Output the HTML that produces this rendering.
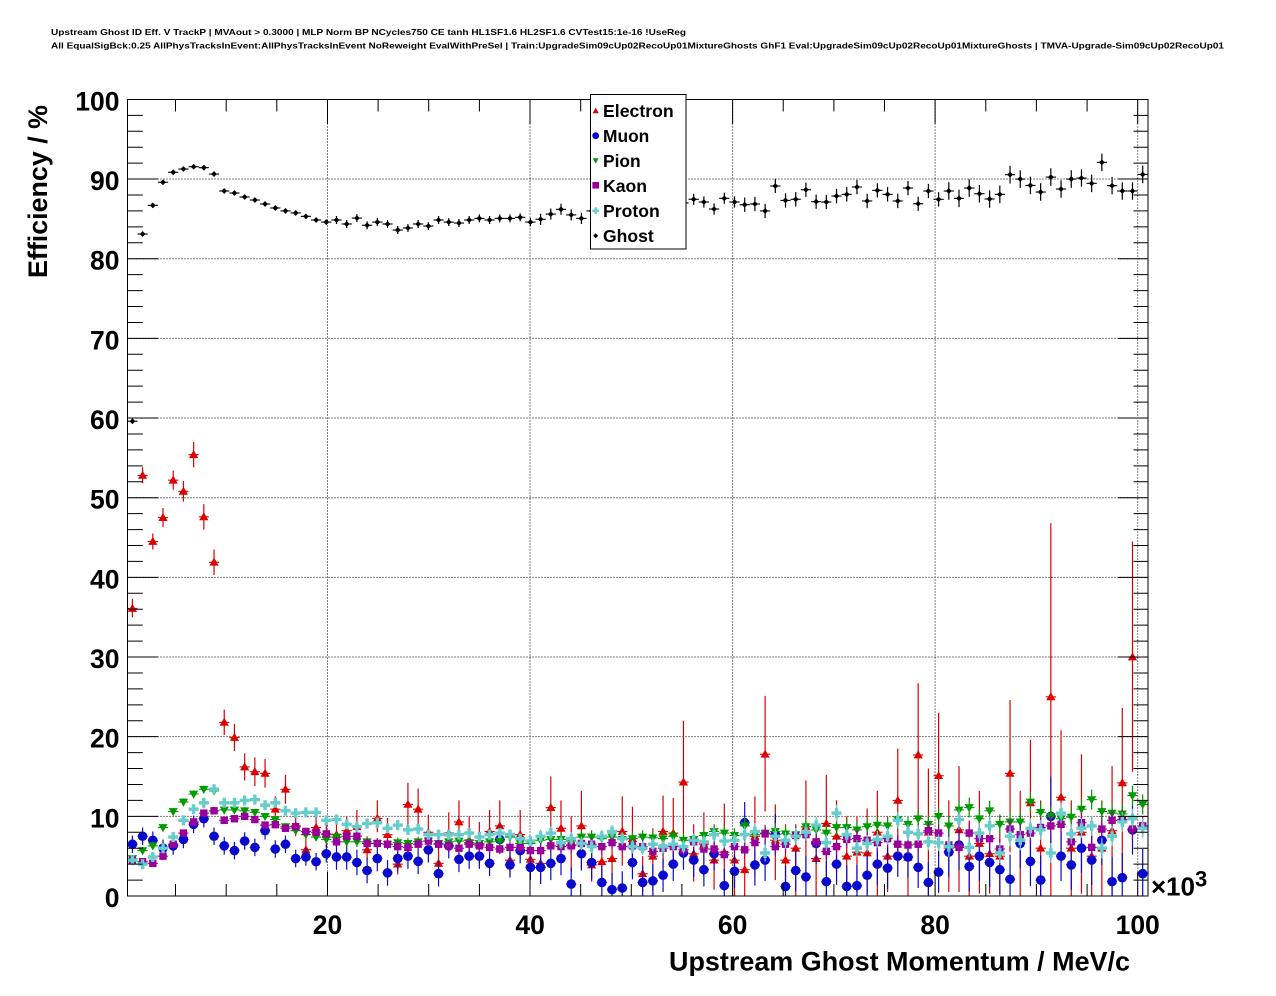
<!DOCTYPE html>
<html><head><meta charset="utf-8">
<style>
html,body{margin:0;padding:0;background:#fff;}
svg{display:block;}
text{font-family:"Liberation Sans",Arial,Helvetica,sans-serif;font-weight:bold;fill:#000;}
</style></head>
<body>
<svg width="1276" height="996" viewBox="0 0 1276 996" xmlns="http://www.w3.org/2000/svg">
<defs>
<clipPath id="cp"><rect x="127.5" y="99.5" width="1020.5" height="796.5"/></clipPath>
<marker id="mE" markerUnits="userSpaceOnUse" markerWidth="1.17589" markerHeight="1.5064" viewBox="-6 -6 12 12" preserveAspectRatio="none" refX="0" refY="0">
<path d="M-5.1 0H5.1" stroke="#dc0000" stroke-width="1.1"/><polygon points="0,-4.7 -4.6,3.4 4.6,3.4" fill="#dc0000"/></marker>
<marker id="mM" markerUnits="userSpaceOnUse" markerWidth="1.17589" markerHeight="1.5064" viewBox="-6 -6 12 12" preserveAspectRatio="none" refX="0" refY="0">
<path d="M-5.1 0H5.1" stroke="#0a0acc" stroke-width="1.1"/><circle cx="0" cy="0" r="4.8" fill="#0a0acc"/></marker>
<marker id="mP" markerUnits="userSpaceOnUse" markerWidth="1.17589" markerHeight="1.5064" viewBox="-6 -6 12 12" preserveAspectRatio="none" refX="0" refY="0">
<path d="M-5.1 0H5.1" stroke="#009a00" stroke-width="1.1"/><polygon points="-4.6,-3.4 4.6,-3.4 0,4.7" fill="#009a00"/></marker>
<marker id="mK" markerUnits="userSpaceOnUse" markerWidth="1.17589" markerHeight="1.5064" viewBox="-6 -6 12 12" preserveAspectRatio="none" refX="0" refY="0">
<path d="M-5.1 0H5.1" stroke="#990099" stroke-width="1.1"/><rect x="-3.7" y="-3.7" width="7.4" height="7.4" fill="#990099"/></marker>
<marker id="mR" markerUnits="userSpaceOnUse" markerWidth="1.17589" markerHeight="1.5064" viewBox="-6 -6 12 12" preserveAspectRatio="none" refX="0" refY="0">
<path d="M-5.1 0H5.1" stroke="#66cccc" stroke-width="1.1"/><rect x="-5" y="-1.7" width="10" height="3.4" fill="#66cccc"/><rect x="-1.7" y="-5" width="3.4" height="10" fill="#66cccc"/></marker>
<marker id="mG" markerUnits="userSpaceOnUse" markerWidth="1.17589" markerHeight="1.5064" viewBox="-6 -6 12 12" preserveAspectRatio="none" refX="0" refY="0">
<path d="M-5.1 0H5.1" stroke="#000" stroke-width="1.1"/><polygon points="0,-2.9 2.9,0 0,2.9 -2.9,0" fill="#000"/></marker>
</defs>
<rect width="1276" height="996" fill="#fff"/>
<text x="51" y="35" font-size="8.5" textLength="635" lengthAdjust="spacingAndGlyphs">Upstream Ghost ID Eff. V TrackP | MVAout &gt; 0.3000 | MLP Norm BP NCycles750 CE tanh HL1SF1.6 HL2SF1.6 CVTest15:1e-16 !UseReg</text>
<text x="51" y="48.5" font-size="8.5" textLength="1173" lengthAdjust="spacingAndGlyphs">All EqualSigBck:0.25 AllPhysTracksInEvent:AllPhysTracksInEvent NoReweight EvalWithPreSel | Train:UpgradeSim09cUp02RecoUp01MixtureGhosts GhF1 Eval:UpgradeSim09cUp02RecoUp01MixtureGhosts | TMVA-Upgrade-Sim09cUp02RecoUp01</text>

<!-- grid -->
<path d="M327.5 99.5V896M530 99.5V896M732.6 99.5V896M935.1 99.5V896M1137.7 99.5V896" stroke="#000" stroke-width="1" stroke-dasharray="1,2" fill="none"/>
<g transform="translate(0,896) scale(1,7.966)">
<path d="M127.5 -10H1148M127.5 -20H1148M127.5 -30H1148M127.5 -40H1148M127.5 -50H1148M127.5 -60H1148M127.5 -70H1148M127.5 -80H1148M127.5 -90H1148" stroke="#000" stroke-width="1" stroke-dasharray="1,2" fill="none" vector-effect="non-scaling-stroke"/>
</g>

<!-- data -->
<g clip-path="url(#cp)">
<g transform="translate(132.4,896) scale(10.205,7.966)">
<!-- Electron -->
<path fill="none" stroke="#dc0000" stroke-width="1.2" vector-effect="non-scaling-stroke" d="M0 -35V-37.3M1 -51.8V-53.8M2 -43.5V-45.5M3 -46.3V-48.7M4 -51V-53.4M5 -49.5V-52.1M6 -53.8V-57M7 -46V-49.2M8 -40.3V-43.5M9 -20.2V-23.4M10 -18.2V-21.6M11 -14.5V-17.9M12 -13.8V-17.4M13 -13.6V-17.2M14 -9.5V-12.5M15 -11.6V-15.2M16 -7.5V-10.5M17 -4.6V-7.2M18 -7V-10.3M19 -6.2V-9.5M20 -6.2V-9.5M21 -6.7V-10M22 -7V-10.8M23 -4.5V-7.5M24 -8V-12M25 -6V-9.8M26 -2.7V-5.5M27 -8.9V-14.2M28 -8.3V-13.5M29 -6V-10.2M30 -2.5V-6M31 -5.6V-10.5M32 -6.5V-12M33 -4.5V-10M34 -4V-9.3M35 -5.5V-10.8M36 -5.8V-12M37 -2.5V-6.5M38 -4.8V-10.8M39 -2.5V-7M40 -1.9V-6.5M41 -7V-15M42 -4.5V-12M43 -3V-10M44 -3.5V-13.2M45 -1.8V-7M46 -2V-7.5M47 -1.5V-8M48 -3.8V-12.5M49 -3.5V-11.2M50 -.5V-5M51 -.8V-8.5M52 -3.7V-12.6M53 -3.5V-12.3M54 -6.6V-22M55 -1.8V-9M56 -2.5V-10.5M57 -.8V-9M58 -1V-11.6M59 0V-8.5M60 0V-7.5M61 -2.5V-12.5M62 -10.6V-25.1M63 -2V-11.5M64 -.5V-9M65 0V-9M66 -3V-14.5M67 0V-8.7M68 -2.5V-15.2M69 -3V-12M70 -.5V-10M71 -.5V-10M72 -.3V-11M73 0V-13.2M74 -.5V-10M75 -4V-18.5M76 0V-7M77 -7V-26.7M78 0V-16M79 -5V-23M80 -.5V-12M81 -.5V-16.3M82 0V-9.5M83 -.3V-13.2M84 -.3V-10M85 0V-10M86 -5.5V-24.6M87 0V-13.2M88 -4V-19.6M89 0V-12M90 0V-46.8M91 -4.1V-20.8M92 0V-12M93 -.3V-17.8M94 0V-10M95 0V-12M96 0V-16.3M97 -3V-23.6M98 -15.6V-44.5"/>
<polyline fill="none" stroke="none" marker-start="url(#mE)" marker-mid="url(#mE)" marker-end="url(#mE)" points="0,-36.1 1,-52.8 2,-44.5 3,-47.5 4,-52.2 5,-50.8 6,-55.4 7,-47.6 8,-41.9 9,-21.8 10,-19.9 11,-16.2 12,-15.6 13,-15.4 14,-10.9 15,-13.4 16,-8.8 17,-5.8 18,-8.6 19,-7.7 20,-7.7 21,-8.2 22,-8.7 23,-5.8 24,-9.75 25,-7.7 26,-4 27,-11.5 28,-10.9 29,-8 30,-4.1 31,-7.9 32,-9.3 33,-7 34,-6.5 35,-8.1 36,-8.8 37,-4.5 38,-7.7 39,-4.6 40,-4.1 41,-11.1 42,-8.5 43,-6.4 44,-8.8 45,-3.9 46,-4.3 47,-4.7 48,-8.1 49,-7.2 50,-2.8 51,-5 52,-8.1 53,-7.9 54,-14.3 55,-5.3 56,-6.5 57,-4.5 58,-5.5 59,-4.5 60,-3.3 61,-7.5 62,-17.8 63,-7 64,-4.5 65,-6 66,-8.7 67,-4.7 68,-9.1 69,-7.5 70,-5 71,-5.5 72,-5.4 73,-8 74,-5 75,-12 76,-4.85 77,-17.7 78,-8 79,-15.1 80,-6 81,-8.3 82,-5 83,-6.6 84,-5.3 85,-5 86,-15.4 87,-7 88,-11.7 89,-6 90,-25 91,-12.4 92,-6 93,-8 94,-5 95,-6 96,-8.2 97,-14.2 98,-30"/>

<!-- Muon -->
<path fill="none" stroke="#0a0acc" stroke-width="1.2" vector-effect="non-scaling-stroke" d="M0 -6.5m0 1.1v-2.2M1 -7.5m0 1.1v-2.2M2 -7m0 1.1v-2.2M3 -6m0 1.1v-2.2M4 -6.3m0 1.1v-2.2M5 -7.1m0 1.1v-2.2M6 -9m0 1.1v-2.2M7 -9.7m0 1.1v-2.2M8 -7.5m0 1.1v-2.2M9 -6.3m0 1.1v-2.2M10 -5.7m0 1.1v-2.2M11 -6.9m0 1.1v-2.2M12 -6.1m0 1.1v-2.2M13 -8.2m0 1.1v-2.2M14 -5.9m0 1.1v-2.2M15 -6.5m0 1.1v-2.2M16 -4.7m0 1.1v-2.2M17 -4.9m0 1.1v-2.2M18 -4.3m0 1.1v-2.2M19 -5.3m0 1.1v-2.2M20 -4.9m0 1.6v-3.2M21 -4.9m0 1.6v-3.2M22 -4.2m0 1.6v-3.2M23 -3.2m0 1.6v-3.2M24 -4.7m0 1.6v-3.2M25 -2.9m0 1.6v-3.2M26 -4.7m0 1.6v-3.2M27 -5m0 1.6v-3.2M28 -4.35m0 1.6v-3.2M29 -5.8m0 1.6v-3.2M30 -2.8m0 1.6v-3.2M31 -6.3m0 1.6v-3.2M32 -4.6m0 1.6v-3.2M33 -5m0 1.6v-3.2M34 -5m0 1.6v-3.2M35 -4.1m0 1.6v-3.2M36 -7.1m0 1.6v-3.2M37 -3.9m0 1.6v-3.2M38 -5.7m0 1.6v-3.2M39 -3.6m0 1.6v-3.2M40 -3.6m0 2.1v-4.2M41 -4.1m0 2.1v-4.2M42 -4.7m0 2.1v-4.2M43 -1.5m0 2.1v-4.2M44 -5.3m0 2.1v-4.2M45 -4.2m0 2.1v-4.2M46 -1.7m0 2.1v-4.2M47 -.8m0 2.1v-4.2M48 -1m0 2.1v-4.2M49 -4.2m0 2.1v-4.2M50 -1.7m0 2.1v-4.2M51 -1.9m0 2.1v-4.2M52 -2.6m0 2.1v-4.2M53 -4m0 2.1v-4.2M54 -5.4m0 2.1v-4.2M55 -4.5m0 2.1v-4.2M56 -3.3m0 2.1v-4.2M57 -5.3m0 2.1v-4.2M58 -1.3m0 2.1v-4.2M59 -3.1m0 2.1v-4.2M60 -9.2m0 2.6v-5.2M61 -3.9m0 2.6v-5.2M62 -4.5m0 2.6v-5.2M63 -7.7m0 2.6v-5.2M64 -1.2m0 2.6v-5.2M65 -3.2m0 2.6v-5.2M66 -2.4m0 2.6v-5.2M67 -6.6m0 2.6v-5.2M68 -1.8m0 2.6v-5.2M69 -4m0 2.6v-5.2M70 -1.2m0 2.6v-5.2M71 -1.3m0 2.6v-5.2M72 -2.6m0 2.6v-5.2M73 -4m0 2.6v-5.2M74 -3.5m0 2.6v-5.2M75 -5m0 2.6v-5.2M76 -4.9m0 2.6v-5.2M77 -3.6m0 2.6v-5.2M78 -1.7m0 2.6v-5.2M79 -3m0 2.6v-5.2M80 -5.5m0 3.1v-6.2M81 -6.4m0 3.1v-6.2M82 -3.7m0 3.1v-6.2M83 -5m0 3.1v-6.2M84 -4.2m0 3.1v-6.2M85 -3.3m0 3.1v-6.2M86 -2.1m0 3.1v-6.2M87 -6.6m0 3.1v-6.2M88 -4.35m0 3.1v-6.2M89 -2m0 3.1v-6.2M90 -10m0 4.2v-9.2M91 -5m0 3.1v-6.2M92 -3.9m0 3.1v-6.2M93 -6m0 3.1v-6.2M94 -4.5m0 3.1v-6.2M95 -7m0 3.1v-6.2M96 -1.8m0 3.1v-6.2M97 -2.3m0 3.1v-6.2M98 -8.3m0 3.1v-6.2M99 -2.8m0 3.1v-6.2"/>
<polyline fill="none" stroke="none" marker-start="url(#mM)" marker-mid="url(#mM)" marker-end="url(#mM)" points="0,-6.5 1,-7.5 2,-7 3,-6 4,-6.3 5,-7.1 6,-9 7,-9.7 8,-7.5 9,-6.3 10,-5.7 11,-6.9 12,-6.1 13,-8.2 14,-5.9 15,-6.5 16,-4.7 17,-4.9 18,-4.3 19,-5.3 20,-4.9 21,-4.9 22,-4.2 23,-3.2 24,-4.7 25,-2.9 26,-4.7 27,-5 28,-4.35 29,-5.8 30,-2.8 31,-6.3 32,-4.6 33,-5 34,-5 35,-4.1 36,-7.1 37,-3.9 38,-5.7 39,-3.6 40,-3.6 41,-4.1 42,-4.7 43,-1.5 44,-5.3 45,-4.2 46,-1.7 47,-.8 48,-1 49,-4.2 50,-1.7 51,-1.9 52,-2.6 53,-4 54,-5.4 55,-4.5 56,-3.3 57,-5.3 58,-1.3 59,-3.1 60,-9.2 61,-3.9 62,-4.5 63,-7.7 64,-1.2 65,-3.2 66,-2.4 67,-6.6 68,-1.8 69,-4 70,-1.2 71,-1.3 72,-2.6 73,-4 74,-3.5 75,-5 76,-4.9 77,-3.6 78,-1.7 79,-3 80,-5.5 81,-6.4 82,-3.7 83,-5 84,-4.2 85,-3.3 86,-2.1 87,-6.6 88,-4.35 89,-2 90,-10 91,-5 92,-3.9 93,-6 94,-4.5 95,-7 96,-1.8 97,-2.3 98,-8.3 99,-2.8"/>

<!-- Pion -->
<path fill="none" stroke="#009a00" stroke-width="1.2" vector-effect="non-scaling-stroke" d="M0 -4.7m0 .45v-.9M1 -5.7m0 .45v-.9M2 -6.3m0 .45v-.9M3 -8.6m0 .45v-.9M4 -10.6m0 .45v-.9M5 -11.8m0 .45v-.9M6 -12.8m0 .45v-.9M7 -13.4m0 .45v-.9M8 -13.2m0 .45v-.9M9 -10.8m0 .45v-.9M10 -10.8m0 .45v-.9M11 -10.7m0 .45v-.9M12 -10.5m0 .45v-.9M13 -10m0 .45v-.9M14 -9.6m0 .45v-.9M15 -8.7m0 .45v-.9M16 -8.2m0 .45v-.9M17 -7.7m0 .45v-.9M18 -7.4m0 .45v-.9M19 -7.1m0 .45v-.9M20 -7.4m0 .65v-1.3M21 -6.8m0 .65v-1.3M22 -6.8m0 .65v-1.3M23 -6.8m0 .65v-1.3M24 -6.6m0 .65v-1.3M25 -6.5m0 .65v-1.3M26 -6.7m0 .65v-1.3M27 -6.6m0 .65v-1.3M28 -6.8m0 .65v-1.3M29 -6.9m0 .65v-1.3M30 -6.6m0 .65v-1.3M31 -6.8m0 .65v-1.3M32 -6.9m0 .65v-1.3M33 -6.7m0 .65v-1.3M34 -6.6m0 .65v-1.3M35 -6.8m0 .65v-1.3M36 -6.9m0 .65v-1.3M37 -7.4m0 .65v-1.3M38 -6.6m0 .65v-1.3M39 -6.6m0 .65v-1.3M40 -7m0 .85v-1.7M41 -7.1m0 .85v-1.7M42 -7.1m0 .85v-1.7M43 -6.9m0 .85v-1.7M44 -7.4m0 .85v-1.7M45 -7.4m0 .85v-1.7M46 -7.2m0 .85v-1.7M47 -7.4m0 .85v-1.7M48 -7.1m0 .85v-1.7M49 -7.2m0 .85v-1.7M50 -7.4m0 .85v-1.7M51 -7.3m0 .85v-1.7M52 -7.2m0 .85v-1.7M53 -7.5m0 .85v-1.7M54 -7m0 .85v-1.7M55 -7.1m0 .85v-1.7M56 -7.6m0 .85v-1.7M57 -8.1m0 .85v-1.7M58 -7.9m0 .85v-1.7M59 -7.6m0 .85v-1.7M60 -8.8m0 1.05v-2.1M61 -7.7m0 1.05v-2.1M62 -7.9m0 1.05v-2.1M63 -8.1m0 1.05v-2.1M64 -7.8m0 1.05v-2.1M65 -7.7m0 1.05v-2.1M66 -8.7m0 1.05v-2.1M67 -8.3m0 1.05v-2.1M68 -7.9m0 1.05v-2.1M69 -8.6m0 1.05v-2.1M70 -8.6m0 1.05v-2.1M71 -8.3m0 1.05v-2.1M72 -8.7m0 1.05v-2.1M73 -8.9m0 1.05v-2.1M74 -8.8m0 1.05v-2.1M75 -9.6m0 1.05v-2.1M76 -9m0 1.05v-2.1M77 -9.7m0 1.05v-2.1M78 -9m0 1.05v-2.1M79 -10m0 1.05v-2.1M80 -8.8m0 1.25v-2.5M81 -10.8m0 1.25v-2.5M82 -11.1m0 1.25v-2.5M83 -9.7m0 1.25v-2.5M84 -10.7m0 1.25v-2.5M85 -9m0 1.25v-2.5M86 -9.3m0 1.25v-2.5M87 -9.3m0 1.25v-2.5M88 -11.8m0 1.25v-2.5M89 -10.5m0 1.25v-2.5M90 -10m0 1.25v-2.5M91 -9.7m0 1.25v-2.5M92 -9.9m0 1.25v-2.5M93 -10.9m0 1.25v-2.5M94 -12.1m0 1.25v-2.5M95 -10.6m0 1.25v-2.5M96 -10.4m0 1.25v-2.5M97 -10.3m0 1.25v-2.5M98 -12.6m0 1.25v-2.5M99 -11.5m0 1.25v-2.5"/>
<polyline fill="none" stroke="none" marker-start="url(#mP)" marker-mid="url(#mP)" marker-end="url(#mP)" points="0,-4.7 1,-5.7 2,-6.3 3,-8.6 4,-10.6 5,-11.8 6,-12.8 7,-13.4 8,-13.2 9,-10.8 10,-10.8 11,-10.7 12,-10.5 13,-10 14,-9.6 15,-8.7 16,-8.2 17,-7.7 18,-7.4 19,-7.1 20,-7.4 21,-6.8 22,-6.8 23,-6.8 24,-6.6 25,-6.5 26,-6.7 27,-6.6 28,-6.8 29,-6.9 30,-6.6 31,-6.8 32,-6.9 33,-6.7 34,-6.6 35,-6.8 36,-6.9 37,-7.4 38,-6.6 39,-6.6 40,-7 41,-7.1 42,-7.1 43,-6.9 44,-7.4 45,-7.4 46,-7.2 47,-7.4 48,-7.1 49,-7.2 50,-7.4 51,-7.3 52,-7.2 53,-7.5 54,-7 55,-7.1 56,-7.6 57,-8.1 58,-7.9 59,-7.6 60,-8.8 61,-7.7 62,-7.9 63,-8.1 64,-7.8 65,-7.7 66,-8.7 67,-8.3 68,-7.9 69,-8.6 70,-8.6 71,-8.3 72,-8.7 73,-8.9 74,-8.8 75,-9.6 76,-9 77,-9.7 78,-9 79,-10 80,-8.8 81,-10.8 82,-11.1 83,-9.7 84,-10.7 85,-9 86,-9.3 87,-9.3 88,-11.8 89,-10.5 90,-10 91,-9.7 92,-9.9 93,-10.9 94,-12.1 95,-10.6 96,-10.4 97,-10.3 98,-12.6 99,-11.5"/>

<!-- Kaon -->
<path fill="none" stroke="#990099" stroke-width="1.2" vector-effect="non-scaling-stroke" d="M0 -4.5m0 .45v-.9M1 -4.3m0 .45v-.9M2 -4.1m0 .45v-.9M3 -5m0 .45v-.9M4 -6.5m0 .45v-.9M5 -7.9m0 .45v-.9M6 -9.3m0 .45v-.9M7 -10.4m0 .45v-.9M8 -10.7m0 .45v-.9M9 -9.5m0 .45v-.9M10 -9.7m0 .45v-.9M11 -10m0 .45v-.9M12 -9.6m0 .45v-.9M13 -8.9m0 .45v-.9M14 -8.95m0 .45v-.9M15 -8.5m0 .45v-.9M16 -8.7m0 .45v-.9M17 -8.1m0 .45v-.9M18 -8m0 .45v-.9M19 -7.8m0 .45v-.9M20 -6.8m0 .65v-1.3M21 -7.5m0 .65v-1.3M22 -7.5m0 .65v-1.3M23 -6.6m0 .65v-1.3M24 -6.6m0 .65v-1.3M25 -6.5m0 .65v-1.3M26 -6.2m0 .65v-1.3M27 -6.1m0 .65v-1.3M28 -6.5m0 .65v-1.3M29 -6.9m0 .65v-1.3M30 -6.5m0 .65v-1.3M31 -6.3m0 .65v-1.3M32 -6m0 .65v-1.3M33 -6.5m0 .65v-1.3M34 -6.3m0 .65v-1.3M35 -6.1m0 .65v-1.3M36 -5.9m0 .65v-1.3M37 -6.1m0 .65v-1.3M38 -6.1m0 .65v-1.3M39 -5.7m0 .65v-1.3M40 -5.7m0 .85v-1.7M41 -6.3m0 .85v-1.7M42 -6.2m0 .85v-1.7M43 -6.3m0 .85v-1.7M44 -6.6m0 .85v-1.7M45 -6.5m0 .85v-1.7M46 -6.2m0 .85v-1.7M47 -6.7m0 .85v-1.7M48 -6.2m0 .85v-1.7M49 -6.3m0 .85v-1.7M50 -6.2m0 .85v-1.7M51 -5.6m0 .85v-1.7M52 -6m0 .85v-1.7M53 -6.2m0 .85v-1.7M54 -5.8m0 .85v-1.7M55 -6.8m0 .85v-1.7M56 -5.9m0 .85v-1.7M57 -5.9m0 .85v-1.7M58 -5.2m0 .85v-1.7M59 -6.2m0 .85v-1.7M60 -5.8m0 1.05v-2.1M61 -6.7m0 1.05v-2.1M62 -7.8m0 1.05v-2.1M63 -6.2m0 1.05v-2.1M64 -6.5m0 1.05v-2.1M65 -7.6m0 1.05v-2.1M66 -7.7m0 1.05v-2.1M67 -6.8m0 1.05v-2.1M68 -5.6m0 1.05v-2.1M69 -6.2m0 1.05v-2.1M70 -7.1m0 1.05v-2.1M71 -7.2m0 1.05v-2.1M72 -7m0 1.05v-2.1M73 -6.7m0 1.05v-2.1M74 -7.2m0 1.05v-2.1M75 -6.5m0 1.05v-2.1M76 -6.4m0 1.05v-2.1M77 -6.5m0 1.05v-2.1M78 -8.2m0 1.05v-2.1M79 -7.9m0 1.05v-2.1M80 -6.4m0 1.25v-2.5M81 -6.1m0 1.25v-2.5M82 -7.9m0 1.25v-2.5M83 -7.2m0 1.25v-2.5M84 -7.2m0 1.25v-2.5M85 -5.9m0 1.25v-2.5M86 -8.4m0 1.25v-2.5M87 -7.7m0 1.25v-2.5M88 -7.9m0 1.25v-2.5M89 -8.6m0 1.25v-2.5M90 -8.8m0 1.25v-2.5M91 -9m0 1.25v-2.5M92 -6.8m0 1.25v-2.5M93 -9.2m0 1.25v-2.5M94 -6.1m0 1.25v-2.5M95 -8.4m0 1.25v-2.5M96 -9.5m0 1.25v-2.5M97 -9.6m0 1.25v-2.5M98 -8.4m0 1.25v-2.5M99 -8.8m0 1.25v-2.5"/>
<polyline fill="none" stroke="none" marker-start="url(#mK)" marker-mid="url(#mK)" marker-end="url(#mK)" points="0,-4.5 1,-4.3 2,-4.1 3,-5 4,-6.5 5,-7.9 6,-9.3 7,-10.4 8,-10.7 9,-9.5 10,-9.7 11,-10 12,-9.6 13,-8.9 14,-8.95 15,-8.5 16,-8.7 17,-8.1 18,-8 19,-7.8 20,-6.8 21,-7.5 22,-7.5 23,-6.6 24,-6.6 25,-6.5 26,-6.2 27,-6.1 28,-6.5 29,-6.9 30,-6.5 31,-6.3 32,-6 33,-6.5 34,-6.3 35,-6.1 36,-5.9 37,-6.1 38,-6.1 39,-5.7 40,-5.7 41,-6.3 42,-6.2 43,-6.3 44,-6.6 45,-6.5 46,-6.2 47,-6.7 48,-6.2 49,-6.3 50,-6.2 51,-5.6 52,-6 53,-6.2 54,-5.8 55,-6.8 56,-5.9 57,-5.9 58,-5.2 59,-6.2 60,-5.8 61,-6.7 62,-7.8 63,-6.2 64,-6.5 65,-7.6 66,-7.7 67,-6.8 68,-5.6 69,-6.2 70,-7.1 71,-7.2 72,-7 73,-6.7 74,-7.2 75,-6.5 76,-6.4 77,-6.5 78,-8.2 79,-7.9 80,-6.4 81,-6.1 82,-7.9 83,-7.2 84,-7.2 85,-5.9 86,-8.4 87,-7.7 88,-7.9 89,-8.6 90,-8.8 91,-9 92,-6.8 93,-9.2 94,-6.1 95,-8.4 96,-9.5 97,-9.6 98,-8.4 99,-8.8"/>

<!-- Proton -->
<path fill="none" stroke="#66cccc" stroke-width="1.2" vector-effect="non-scaling-stroke" d="M0 -4.5m0 .45v-.9M1 -4m0 .45v-.9M2 -4.9m0 .45v-.9M3 -6m0 .45v-.9M4 -7.4m0 .45v-.9M5 -9.5m0 .45v-.9M6 -10.9m0 .45v-.9M7 -11.7m0 .45v-.9M8 -13.4m0 .45v-.9M9 -11.7m0 .45v-.9M10 -11.7m0 .45v-.9M11 -12m0 .45v-.9M12 -12.1m0 .45v-.9M13 -11.4m0 .45v-.9M14 -11.7m0 .45v-.9M15 -10.7m0 .45v-.9M16 -10.4m0 .45v-.9M17 -10.5m0 .45v-.9M18 -10.5m0 .45v-.9M19 -9.5m0 .45v-.9M20 -9.6m0 .65v-1.3M21 -9m0 .65v-1.3M22 -8.7m0 .65v-1.3M23 -9.1m0 .65v-1.3M24 -9.2m0 .65v-1.3M25 -8.5m0 .65v-1.3M26 -8.9m0 .65v-1.3M27 -8.3m0 .65v-1.3M28 -8.4m0 .65v-1.3M29 -7.7m0 .65v-1.3M30 -7.7m0 .65v-1.3M31 -7.7m0 .65v-1.3M32 -7.7m0 .65v-1.3M33 -7.9m0 .65v-1.3M34 -7.4m0 .65v-1.3M35 -7.7m0 .65v-1.3M36 -7.9m0 .65v-1.3M37 -7.7m0 .65v-1.3M38 -7.2m0 .65v-1.3M39 -6.9m0 .65v-1.3M40 -7.5m0 .85v-1.7M41 -7.9m0 .85v-1.7M42 -6.7m0 .85v-1.7M43 -7.2m0 .85v-1.7M44 -6.6m0 .85v-1.7M45 -6.2m0 .85v-1.7M46 -7.5m0 .85v-1.7M47 -8.1m0 .85v-1.7M48 -7.2m0 .85v-1.7M49 -6.2m0 .85v-1.7M50 -6m0 .85v-1.7M51 -6.5m0 .85v-1.7M52 -6.2m0 .85v-1.7M53 -6.5m0 .85v-1.7M54 -6.2m0 .85v-1.7M55 -7m0 .85v-1.7M56 -6.8m0 .85v-1.7M57 -7.7m0 .85v-1.7M58 -6.9m0 .85v-1.7M59 -7m0 .85v-1.7M60 -7.7m0 1.05v-2.1M61 -8.1m0 1.05v-2.1M62 -5.4m0 1.05v-2.1M63 -7.5m0 1.05v-2.1M64 -7m0 1.05v-2.1M65 -7.5m0 1.05v-2.1M66 -8m0 1.05v-2.1M67 -8.9m0 1.05v-2.1M68 -6.7m0 1.05v-2.1M69 -10.4m0 1.05v-2.1M70 -7.7m0 1.05v-2.1M71 -6m0 1.05v-2.1M72 -6.6m0 1.05v-2.1M73 -7.1m0 1.05v-2.1M74 -7.5m0 1.05v-2.1M75 -9.5m0 1.05v-2.1M76 -8m0 1.05v-2.1M77 -7.8m0 1.05v-2.1M78 -6.8m0 1.05v-2.1M79 -6.7m0 1.05v-2.1M80 -6.2m0 1.25v-2.5M81 -9.6m0 1.25v-2.5M82 -6.1m0 1.25v-2.5M83 -7.9m0 1.25v-2.5M84 -8.8m0 1.25v-2.5M85 -5.4m0 1.25v-2.5M86 -7.5m0 1.25v-2.5M87 -7m0 1.25v-2.5M88 -8.5m0 1.25v-2.5M89 -8.3m0 1.25v-2.5M90 -5.4m0 1.25v-2.5M91 -10.4m0 1.25v-2.5M92 -7.8m0 1.25v-2.5M93 -8.5m0 1.25v-2.5M94 -8.8m0 1.25v-2.5M95 -6m0 1.25v-2.5M96 -7.5m0 1.25v-2.5M97 -9.3m0 1.25v-2.5M98 -9.7m0 1.25v-2.5M99 -8.5m0 1.25v-2.5"/>
<polyline fill="none" stroke="none" marker-start="url(#mR)" marker-mid="url(#mR)" marker-end="url(#mR)" points="0,-4.5 1,-4 2,-4.9 3,-6 4,-7.4 5,-9.5 6,-10.9 7,-11.7 8,-13.4 9,-11.7 10,-11.7 11,-12 12,-12.1 13,-11.4 14,-11.7 15,-10.7 16,-10.4 17,-10.5 18,-10.5 19,-9.5 20,-9.6 21,-9 22,-8.7 23,-9.1 24,-9.2 25,-8.5 26,-8.9 27,-8.3 28,-8.4 29,-7.7 30,-7.7 31,-7.7 32,-7.7 33,-7.9 34,-7.4 35,-7.7 36,-7.9 37,-7.7 38,-7.2 39,-6.9 40,-7.5 41,-7.9 42,-6.7 43,-7.2 44,-6.6 45,-6.2 46,-7.5 47,-8.1 48,-7.2 49,-6.2 50,-6 51,-6.5 52,-6.2 53,-6.5 54,-6.2 55,-7 56,-6.8 57,-7.7 58,-6.9 59,-7 60,-7.7 61,-8.1 62,-5.4 63,-7.5 64,-7 65,-7.5 66,-8 67,-8.9 68,-6.7 69,-10.4 70,-7.7 71,-6 72,-6.6 73,-7.1 74,-7.5 75,-9.5 76,-8 77,-7.8 78,-6.8 79,-6.7 80,-6.2 81,-9.6 82,-6.1 83,-7.9 84,-8.8 85,-5.4 86,-7.5 87,-7 88,-8.5 89,-8.3 90,-5.4 91,-10.4 92,-7.8 93,-8.5 94,-8.8 95,-6 96,-7.5 97,-9.3 98,-9.7 99,-8.5"/>

<!-- Ghost -->
<path fill="none" stroke="#000" stroke-width="1.2" vector-effect="non-scaling-stroke" d="M0 -59.6m0 .3v-.6M1 -83.1m0 .3v-.6M2 -86.7m0 .3v-.6M3 -89.6m0 .3v-.6M4 -90.85m0 .3v-.6M5 -91.26m0 .3v-.6M6 -91.55m0 .3v-.6M7 -91.43m0 .3v-.6M8 -90.63m0 .3v-.6M9 -88.5m0 .3v-.6M10 -88.25m0 .3v-.6M11 -87.75m0 .3v-.6M12 -87.37m0 .3v-.6M13 -86.87m0 .3v-.6M14 -86.37m0 .3v-.6M15 -86m0 .3v-.6M16 -85.75m0 .3v-.6M17 -85.32m0 .3v-.6M18 -84.86m0 .3v-.6M19 -84.6m0 .3v-.6M20 -84.86m0 .5v-1M21 -84.36m0 .5v-1M22 -85.1m0 .5v-1M23 -84.2m0 .5v-1M24 -84.6m0 .5v-1M25 -84.36m0 .5v-1M26 -83.6m0 .5v-1M27 -83.86m0 .5v-1M28 -84.36m0 .5v-1M29 -84.1m0 .5v-1M30 -84.86m0 .5v-1M31 -84.6m0 .5v-1M32 -84.48m0 .5v-1M33 -84.86m0 .5v-1M34 -85.06m0 .5v-1M35 -84.86m0 .5v-1M36 -85.06m0 .5v-1M37 -85.06m0 .5v-1M38 -85.2m0 .5v-1M39 -84.6m0 .5v-1M40 -84.95m0 .7v-1.4M41 -85.6m0 .7v-1.4M42 -86.2m0 .7v-1.4M43 -85.5m0 .7v-1.4M44 -85.06m0 .7v-1.4M45 -86m0 .7v-1.4M46 -86m0 .7v-1.4M47 -86.3m0 .7v-1.4M48 -86.5m0 .7v-1.4M49 -86.8m0 .7v-1.4M50 -86.5m0 .7v-1.4M51 -87m0 .7v-1.4M52 -86.6m0 .7v-1.4M53 -87.2m0 .7v-1.4M54 -87m0 .7v-1.4M55 -87.46m0 .7v-1.4M56 -87.12m0 .7v-1.4M57 -86.24m0 .7v-1.4M58 -87.58m0 .7v-1.4M59 -87.12m0 .7v-1.4M60 -86.78m0 .9v-1.8M61 -86.87m0 .9v-1.8M62 -86m0 .9v-1.8M63 -89.13m0 .9v-1.8M64 -87.32m0 .9v-1.8M65 -87.46m0 .9v-1.8M66 -88.66m0 .9v-1.8M67 -87.16m0 .9v-1.8M68 -87.12m0 .9v-1.8M69 -87.87m0 .9v-1.8M70 -88.08m0 .9v-1.8M71 -89m0 .9v-1.8M72 -87.25m0 .9v-1.8M73 -88.58m0 .9v-1.8M74 -88.08m0 .9v-1.8M75 -87.25m0 .9v-1.8M76 -88.87m0 .9v-1.8M77 -86.9m0 .9v-1.8M78 -88.5m0 .9v-1.8M79 -87.46m0 .9v-1.8M80 -88.5m0 1.1v-2.2M81 -87.58m0 1.1v-2.2M82 -88.87m0 1.1v-2.2M83 -88.16m0 1.1v-2.2M84 -87.5m0 1.1v-2.2M85 -88.08m0 1.1v-2.2M86 -90.55m0 1.1v-2.2M87 -90m0 1.1v-2.2M88 -89.2m0 1.1v-2.2M89 -88.37m0 1.1v-2.2M90 -90.25m0 1.1v-2.2M91 -88.75m0 1.1v-2.2M92 -90m0 1.1v-2.2M93 -90.13m0 1.1v-2.2M94 -89.46m0 1.1v-2.2M95 -92.1m0 1.1v-2.2M96 -89.17m0 1.1v-2.2M97 -88.5m0 1.1v-2.2M98 -88.5m0 1.1v-2.2M99 -90.58m0 1.1v-2.2"/>
<polyline fill="none" stroke="none" marker-start="url(#mG)" marker-mid="url(#mG)" marker-end="url(#mG)" points="0,-59.6 1,-83.1 2,-86.7 3,-89.6 4,-90.85 5,-91.26 6,-91.55 7,-91.43 8,-90.63 9,-88.5 10,-88.25 11,-87.75 12,-87.37 13,-86.87 14,-86.37 15,-86 16,-85.75 17,-85.32 18,-84.86 19,-84.6 20,-84.86 21,-84.36 22,-85.1 23,-84.2 24,-84.6 25,-84.36 26,-83.6 27,-83.86 28,-84.36 29,-84.1 30,-84.86 31,-84.6 32,-84.48 33,-84.86 34,-85.06 35,-84.86 36,-85.06 37,-85.06 38,-85.2 39,-84.6 40,-84.95 41,-85.6 42,-86.2 43,-85.5 44,-85.06 45,-86 46,-86 47,-86.3 48,-86.5 49,-86.8 50,-86.5 51,-87 52,-86.6 53,-87.2 54,-87 55,-87.46 56,-87.12 57,-86.24 58,-87.58 59,-87.12 60,-86.78 61,-86.87 62,-86 63,-89.13 64,-87.32 65,-87.46 66,-88.66 67,-87.16 68,-87.12 69,-87.87 70,-88.08 71,-89 72,-87.25 73,-88.58 74,-88.08 75,-87.25 76,-88.87 77,-86.9 78,-88.5 79,-87.46 80,-88.5 81,-87.58 82,-88.87 83,-88.16 84,-87.5 85,-88.08 86,-90.55 87,-90 88,-89.2 89,-88.37 90,-90.25 91,-88.75 92,-90 93,-90.13 94,-89.46 95,-92.1 96,-89.17 97,-88.5 98,-88.5 99,-90.58"/>
</g>
</g>

<!-- axes frame and ticks -->
<rect x="127.5" y="99.5" width="1020.5" height="796.5" fill="none" stroke="#000" stroke-width="1"/>
<path fill="none" stroke="#000" stroke-width="1" d="M175.5 896v-12M226.2 896v-12M276.8 896v-12M327.5 896v-24M378.1 896v-12M428.7 896v-12M479.4 896v-12M530 896v-24M580.7 896v-12M631.3 896v-12M681.9 896v-12M732.6 896v-24M783.2 896v-12M833.9 896v-12M884.5 896v-12M935.1 896v-24M985.8 896v-12M1036.4 896v-12M1087.1 896v-12M1137.7 896v-24M175.5 99.5v12M226.2 99.5v12M276.8 99.5v12M327.5 99.5v24M378.1 99.5v12M428.7 99.5v12M479.4 99.5v12M530 99.5v24M580.7 99.5v12M631.3 99.5v12M681.9 99.5v12M732.6 99.5v24M783.2 99.5v12M833.9 99.5v12M884.5 99.5v12M935.1 99.5v24M985.8 99.5v12M1036.4 99.5v12M1087.1 99.5v12M1137.7 99.5v24"/>
<g transform="translate(0,896) scale(1,7.966)">
<path fill="none" stroke="#000" stroke-width="1" vector-effect="non-scaling-stroke" d="M127.5 0h31M127.5 -2h15.3M127.5 -4h15.3M127.5 -6h15.3M127.5 -8h15.3M127.5 -10h31M127.5 -12h15.3M127.5 -14h15.3M127.5 -16h15.3M127.5 -18h15.3M127.5 -20h31M127.5 -22h15.3M127.5 -24h15.3M127.5 -26h15.3M127.5 -28h15.3M127.5 -30h31M127.5 -32h15.3M127.5 -34h15.3M127.5 -36h15.3M127.5 -38h15.3M127.5 -40h31M127.5 -42h15.3M127.5 -44h15.3M127.5 -46h15.3M127.5 -48h15.3M127.5 -50h31M127.5 -52h15.3M127.5 -54h15.3M127.5 -56h15.3M127.5 -58h15.3M127.5 -60h31M127.5 -62h15.3M127.5 -64h15.3M127.5 -66h15.3M127.5 -68h15.3M127.5 -70h31M127.5 -72h15.3M127.5 -74h15.3M127.5 -76h15.3M127.5 -78h15.3M127.5 -80h31M127.5 -82h15.3M127.5 -84h15.3M127.5 -86h15.3M127.5 -88h15.3M127.5 -90h31M127.5 -92h15.3M127.5 -94h15.3M127.5 -96h15.3M127.5 -98h15.3M1148 0h-30M1148 -2h-14.5M1148 -4h-14.5M1148 -6h-14.5M1148 -8h-14.5M1148 -10h-30M1148 -12h-14.5M1148 -14h-14.5M1148 -16h-14.5M1148 -18h-14.5M1148 -20h-30M1148 -22h-14.5M1148 -24h-14.5M1148 -26h-14.5M1148 -28h-14.5M1148 -30h-30M1148 -32h-14.5M1148 -34h-14.5M1148 -36h-14.5M1148 -38h-14.5M1148 -40h-30M1148 -42h-14.5M1148 -44h-14.5M1148 -46h-14.5M1148 -48h-14.5M1148 -50h-30M1148 -52h-14.5M1148 -54h-14.5M1148 -56h-14.5M1148 -58h-14.5M1148 -60h-30M1148 -62h-14.5M1148 -64h-14.5M1148 -66h-14.5M1148 -68h-14.5M1148 -70h-30M1148 -72h-14.5M1148 -74h-14.5M1148 -76h-14.5M1148 -78h-14.5M1148 -80h-30M1148 -82h-14.5M1148 -84h-14.5M1148 -86h-14.5M1148 -88h-14.5M1148 -90h-30M1148 -92h-14.5M1148 -94h-14.5M1148 -96h-14.5M1148 -98h-14.5"/>
</g>

<!-- Y labels -->
<g font-size="26.5" text-anchor="end">
<text x="119.5" y="110.4">100</text>
<text x="119.5" y="190.1">90</text>
<text x="119.5" y="269.7">80</text>
<text x="119.5" y="349.4">70</text>
<text x="119.5" y="429.0">60</text>
<text x="119.5" y="508.7">50</text>
<text x="119.5" y="588.4">40</text>
<text x="119.5" y="668.0">30</text>
<text x="119.5" y="747.7">20</text>
<text x="119.5" y="827.3">10</text>
<text x="119.5" y="907">0</text>
</g>
<!-- X labels -->
<g font-size="26.5" text-anchor="middle">
<text x="327.5" y="934">20</text>
<text x="530.1" y="934">40</text>
<text x="732.6" y="934">60</text>
<text x="935.1" y="934">80</text>
<text x="1137.7" y="934">100</text>
</g>
<text x="1151" y="895.7" font-size="26">×</text>
<text x="1166" y="895.7" font-size="26">10</text>
<text x="1195" y="886.5" font-size="22">3</text>

<text x="1130" y="970.7" font-size="26.8" text-anchor="end" textLength="461" lengthAdjust="spacingAndGlyphs">Upstream Ghost Momentum / MeV/c</text>
<text transform="translate(47,105) rotate(-90)" x="0" y="0" font-size="26.5" text-anchor="end" textLength="173" lengthAdjust="spacingAndGlyphs">Efficiency / %</text>

<!-- Legend -->
<rect x="590.5" y="94.5" width="95.5" height="154.5" fill="#fff" stroke="#000" stroke-width="1"/>
<g font-size="17.3">
<text x="603" y="117" textLength="70.7" lengthAdjust="spacingAndGlyphs">Electron</text>
<text x="603" y="142" textLength="46.3" lengthAdjust="spacingAndGlyphs">Muon</text>
<text x="603" y="167" textLength="37.7" lengthAdjust="spacingAndGlyphs">Pion</text>
<text x="603" y="192" textLength="44" lengthAdjust="spacingAndGlyphs">Kaon</text>
<text x="603" y="217" textLength="56.7" lengthAdjust="spacingAndGlyphs">Proton</text>
<text x="603" y="242" textLength="50.7" lengthAdjust="spacingAndGlyphs">Ghost</text>
</g>
<polygon points="595.7,107.6 592.7,113.2 598.7,113.2" fill="#dc0000"/>
<circle cx="595.7" cy="135.7" r="3.4" fill="#0a0acc"/>
<polygon points="592.8,158.2 598.6,158.2 595.7,163.6" fill="#009a00"/>
<rect x="592.4" y="182" width="6.6" height="6.6" fill="#990099"/>
<rect x="592.3" y="209.5" width="6.8" height="2.4" fill="#66cccc"/>
<rect x="594.5" y="207.3" width="2.4" height="6.8" fill="#66cccc"/>
<polygon points="595.7,233.2 598.2,235.7 595.7,238.2 593.2,235.7" fill="#000"/>
</svg>
</body></html>
